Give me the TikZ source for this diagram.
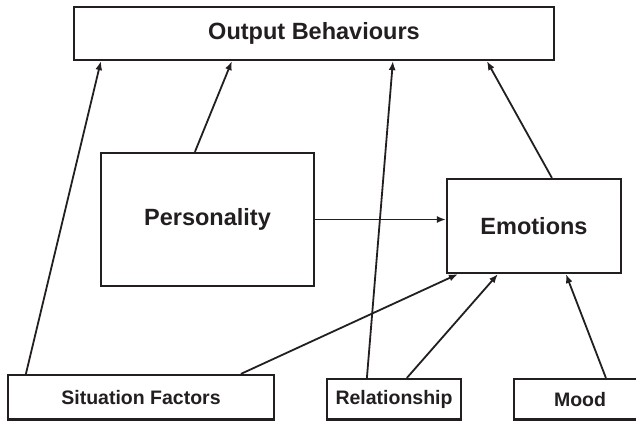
\documentclass[tikz,border=0pt]{standalone}
\usepackage{fontspec}
\setmainfont{Liberation Sans}
\usetikzlibrary{arrows.meta}
\definecolor{ink}{HTML}{231F20}
\begin{document}
\begin{tikzpicture}[x=1pt,y=-1pt,
  box/.style={draw=ink,line width=2.2pt,rectangle,inner sep=0pt,
    text=ink,font=\bfseries\fontsize{23.5}{26}\selectfont},
  small/.style={box,font=\bfseries\fontsize{19.5}{22}\selectfont},
  link/.style={draw=ink,line width=1.8pt,
    -{Latex[length=9pt,width=7pt]}}]
\clip (0,0) rectangle (636,421);
\fill[white] (0,0) rectangle (636,421);

% boxes
\node[box,minimum width=480pt,minimum height=53pt] (out) at (314,33.5) {Output Behaviours};
\node[box,minimum width=213pt,minimum height=133pt] (pers) at (207.5,219.5) {Personality};
\node[box,minimum width=174pt,minimum height=94pt] (emo) at (534,226) {Emotions};
\node[small,minimum width=266pt,minimum height=44.5pt] (sit) at (141,397.25) {Situation Factors};
\node[small,minimum width=134pt,minimum height=40.5pt] (rel) at (394,399.25) {Relationship};
\node[small,minimum width=132pt,minimum height=40.5pt] (mood) at (580,399.25) {Mood};

% influences on output behaviours
\draw[link] ([xshift=19pt]sit.north west) -- ([xshift=28pt]out.south west);
\draw[link] ([xshift=95pt]pers.north west) -- ([xshift=159pt]out.south west);
\draw[link] ([xshift=41pt]rel.north west) -- ([xshift=320pt]out.south west);
\draw[link] ([xshift=106pt]emo.north west) -- ([xshift=414pt]out.south west);

% influences on emotions
\draw[link] (pers.east) -- (pers.east -| emo.west);
\draw[link] ([xshift=234pt]sit.north west) -- ([xshift=12pt]emo.south west);
\draw[link] ([xshift=81pt]rel.north west) -- ([xshift=52pt]emo.south west);
\draw[link] ([xshift=93pt]mood.north west) -- ([xshift=120pt]emo.south west);
\end{tikzpicture}
\end{document}
